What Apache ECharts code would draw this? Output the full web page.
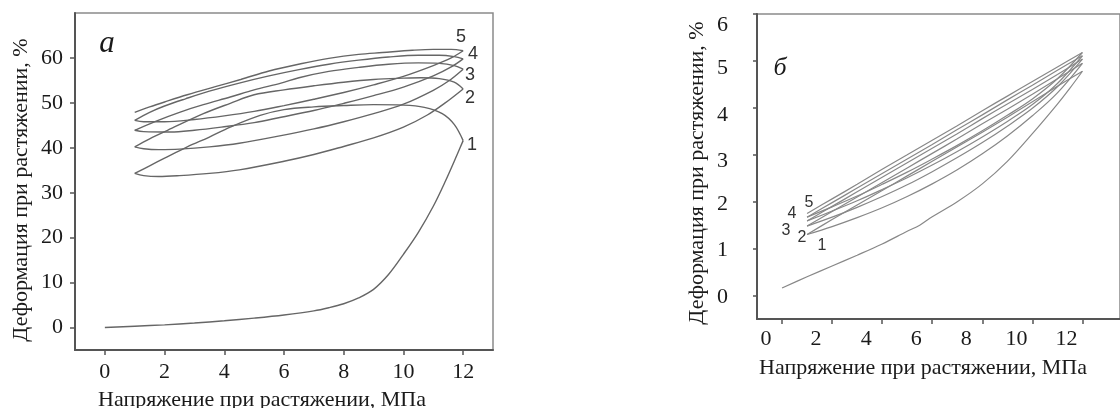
<!DOCTYPE html>
<html><head><meta charset="utf-8">
<script src="https://cdn.jsdelivr.net/npm/echarts@6/dist/echarts.min.js"></script>
<style>html,body{margin:0;padding:0;background:#fff}#c{width:1120px;height:408px}</style>
</head><body><div id="c"></div>
<script>
// ---------- tick labels ----------
const xTicksA = [0, 2, 4, 6, 8, 10, 12];
const yTicksA = [0, 10, 20, 30, 40, 50, 60];
const xTicksB = [0, 2, 4, 6, 8, 10, 12];
const yTicksB = [0, 1, 2, 3, 4, 5, 6];
const cycleNames = ['1', '2', '3', '4', '5'];
const xNameText = 'Напряжение при растяжении, МПа';
const yNameText = 'Деформация при растяжении, %';
const panelNames = ['а', 'б'];

// ---------- panel а: stress (MPa), strain (%) ----------
const loadA1 = [[0,0],[1,0.3],[2,0.6],[3,1.0],[4,1.5],[5,2.1],[6,2.8],[7,3.7],[7.5,4.4],[8,5.3],[8.5,6.6],[9,8.5],[9.5,11.8],[10,16.3],[10.5,21.2],[11,27],[11.4,32.5],[11.8,38.5],[12,41.6]];
const unloadA1 = [[12,41.6],[11.7,45.2],[11.3,47.6],[10.7,49],[10,49.5],[9,49.6],[8,49.4],[7,49.1],[6,48.5],[5.2,47.2],[4.2,44.6],[3.5,42.4],[2.76,40.2],[2,37.7],[1.5,36],[1,34.3]];
const loadA2 = [[1,34.3],[1.3,33.8],[1.8,33.6],[2.5,33.8],[3.5,34.3],[4.5,35.1],[6,37],[7,38.5],[8,40.3],[9,42.2],[10,44.6],[10.8,47.3],[11.4,50],[12,53.1]];
const unloadA2 = [[12,53.1],[11.7,54.6],[11.2,55.4],[10.6,55.6],[10,55.5],[9,55.2],[8,54.6],[7,53.8],[6,52.9],[5,51.8],[4.2,49.9],[3.3,47.6],[2.1,43.9],[1.5,42],[1,40.2]];
const loadA3 = [[1,40.2],[1.3,39.8],[1.8,39.6],[2.5,39.7],[3.5,40.2],[4.5,41],[5.9,42.7],[7,44.2],[8,45.8],[9,47.6],[10,49.7],[11,52.8],[11.5,54.8],[12,57.5]];
const unloadA3 = [[12,57.5],[11.7,58.3],[11.2,58.8],[10.5,58.9],[9.5,58.6],[8.5,57.9],[7.5,57],[6.5,55.6],[5.9,54.4],[5,52.9],[4.2,51.3],[3.3,49.6],[2.5,47.9],[1.7,45.9],[1,43.9]];
const loadA4 = [[1,43.9],[1.3,43.6],[2.2,43.5],[3,43.9],[3.9,44.6],[5,45.6],[5.9,46.8],[7,48.3],[8,49.9],[9,51.6],[10,53.5],[11,56],[11.6,58],[12,59.8]];
const unloadA4 = [[12,59.8],[11.7,60.3],[11.2,60.6],[10.5,60.6],[9.5,60.2],[8.5,59.5],[7.5,58.6],[6.5,57.4],[5.5,56],[4.5,54.4],[3.5,52.6],[2.7,50.9],[2,49.3],[1.5,47.9],[1,46.1]];
const loadA5 = [[1,46.1],[1.3,45.8],[2,45.8],[3,46.3],[4,47.1],[5,48.1],[6,49.4],[7,50.8],[8,52.3],[9,54],[10,55.9],[11,58.3],[11.6,60],[12,61.6]];
const unloadA5 = [[12,61.6],[11.6,61.9],[11,61.9],[10.3,61.7],[9.3,61.2],[8.5,60.8],[7.5,59.9],[6.56,58.7],[5.5,57.1],[4.55,55.2],[3.7,53.6],[2.76,51.8],[2,50.2],[1.5,49.1],[1,47.9]];

// ---------- panel б ----------
const loadB1 = [[0,0.16],[1,0.4],[2,0.63],[3,0.86],[4,1.1],[5,1.37],[5.5,1.5],[6,1.68],[7,2.0],[8,2.38],[9,2.86],[10,3.45],[11,4.08],[11.5,4.42],[12,4.78]];
const unloadB1 = [[12,4.78],[11,4.46],[10,4.13],[9,3.8],[8,3.48],[7,3.17],[6,2.86],[5,2.55],[4,2.24],[3,1.93],[2,1.62],[1,1.30]];
const loadB2 = [[1,1.30],[2,1.47],[3,1.66],[4,1.87],[5,2.11],[6,2.38],[7,2.68],[8,3.02],[9,3.40],[10,3.83],[11,4.32],[12,4.95]];
const unloadB2 = [[12,4.95],[11,4.62],[10,4.29],[9,3.97],[8,3.66],[7,3.34],[6,3.03],[5,2.72],[4,2.41],[3,2.10],[2,1.79],[1,1.48]];
const loadB3 = [[1,1.48],[2,1.67],[3,1.88],[4,2.11],[5,2.36],[6,2.64],[7,2.94],[8,3.26],[9,3.61],[10,3.99],[11,4.45],[12,5.04]];
const unloadB3 = [[12,5.04],[11,4.71],[10,4.39],[9,4.08],[8,3.77],[7,3.45],[6,3.14],[5,2.83],[4,2.52],[3,2.21],[2,1.90],[1,1.59]];
const loadB4 = [[1,1.59],[2,1.80],[3,2.02],[4,2.26],[5,2.51],[6,2.78],[7,3.07],[8,3.38],[9,3.71],[10,4.07],[11,4.52],[12,5.11]];
const unloadB4 = [[12,5.11],[11,4.80],[10,4.48],[9,4.17],[8,3.85],[7,3.54],[6,3.22],[5,2.91],[4,2.60],[3,2.29],[2,1.98],[1,1.67]];
const loadB5 = [[1,1.67],[2,1.89],[3,2.12],[4,2.37],[5,2.63],[6,2.91],[7,3.20],[8,3.51],[9,3.84],[10,4.19],[11,4.62],[12,5.18]];
const unloadB5 = [[12,5.18],[11,4.87],[10,4.56],[9,4.25],[8,3.94],[7,3.62],[6,3.31],[5,3.00],[4,2.69],[3,2.37],[2,2.06],[1,1.75]];

const branchesA = [loadA1, unloadA1, loadA2, unloadA2, loadA3, unloadA3, loadA4, unloadA4, loadA5, unloadA5];
const branchesB = [loadB1, unloadB1, loadB2, unloadB2, loadB3, unloadB3, loadB4, unloadB4, loadB5, unloadB5];

const SERIF = '"Liberation Serif", "Times New Roman", serif';
const SANS = '"Liberation Sans", Arial, sans-serif';
const TXT = '#1a1a1a';
const FS = 22;

function mkSeries(data, idx, color, width) {
  return {
    type: 'line', data: data, xAxisIndex: idx, yAxisIndex: idx,
    showSymbol: false, smooth: 0.35, silent: true, animation: false,
    lineStyle: { color: color, width: width }
  };
}

const series = [];
branchesA.forEach(d => series.push(mkSeries(d, 0, '#666', 1.4)));
branchesB.forEach(d => series.push(mkSeries(d, 1, '#888', 1.2)));

const yOffB = {0: 4, 1: 4, 2: 6, 3: 12, 4: 15, 5: 15, 6: 22};
const richB = {};
yTicksB.forEach(v => { richB['o' + v] = { padding: [yOffB[v], 0, 0, 0], fontFamily: SERIF, fontSize: FS, color: TXT }; });

const axisLineStyle = { color: '#555', width: 2 };

function txt(text, x, y, font, fill, rot) {
  const g = { type: 'text', x: x, y: y, style: { text: text, font: font, fill: fill, align: 'center', verticalAlign: 'middle' } };
  if (rot) g.rotation = rot;
  return g;
}

const option = {
  backgroundColor: '#fff',
  animation: false,
  grid: [
    { left: 75, top: 13, width: 418, height: 337, show: true, borderColor: '#8a8a8a', borderWidth: 1.5, backgroundColor: 'transparent' },
    { left: 757, top: 14, width: 387, height: 305, show: true, borderColor: '#8a8a8a', borderWidth: 1.5, backgroundColor: 'transparent' }
  ],
  xAxis: [
    { type: 'value', gridIndex: 0, min: -1, max: 13, splitLine: { show: false },
      axisLine: { show: true, onZero: false, lineStyle: axisLineStyle },
      axisTick: { show: true, length: 5, customValues: xTicksA, lineStyle: { color: '#555', width: 1.5 } },
      axisLabel: { customValues: xTicksA, margin: 11, fontFamily: SERIF, fontSize: FS, color: TXT } },
    { type: 'value', gridIndex: 1, min: -1, max: 13.5, splitLine: { show: false },
      axisLine: { show: true, onZero: false, lineStyle: axisLineStyle },
      axisTick: { show: true, length: 5, customValues: xTicksB, lineStyle: { color: '#555', width: 1.5 } },
      axisLabel: { customValues: xTicksB, margin: 9, fontFamily: SERIF, fontSize: FS, color: TXT, padding: [0, 32, 0, 0] } }
  ],
  yAxis: [
    { type: 'value', gridIndex: 0, min: -5, max: 70, splitLine: { show: false },
      axisLine: { show: true, onZero: false, lineStyle: axisLineStyle },
      axisTick: { show: true, length: 5, customValues: yTicksA, lineStyle: { color: '#555', width: 1.5 } },
      axisLabel: { customValues: yTicksA, margin: 12, fontFamily: SERIF, fontSize: FS, color: TXT } },
    { type: 'value', gridIndex: 1, min: -0.5, max: 6, splitLine: { show: false },
      axisLine: { show: true, onZero: false, lineStyle: axisLineStyle },
      axisTick: { show: true, length: 4, customValues: yTicksB, lineStyle: { color: '#555', width: 1.5 } },
      axisLabel: { customValues: yTicksB, margin: 29, formatter: v => '{o' + v + '|' + v + '}', rich: richB } }
  ],
  series: series,
  graphic: [
    txt(xNameText, 262, 400, FS + 'px ' + SERIF, TXT),
    txt(yNameText, 21, 190, FS + 'px ' + SERIF, TXT, Math.PI / 2),
    txt(xNameText, 923, 368, FS + 'px ' + SERIF, TXT),
    txt(yNameText, 697, 173, FS + 'px ' + SERIF, TXT, Math.PI / 2),
    txt(panelNames[0], 107, 44, 'italic 31px ' + SERIF, TXT),
    txt(panelNames[1], 780, 68, 'italic 26px ' + SERIF, TXT),
    txt(cycleNames[4], 461, 37, '18px ' + SANS, '#333'),
    txt(cycleNames[3], 473, 54, '18px ' + SANS, '#333'),
    txt(cycleNames[2], 470, 75, '18px ' + SANS, '#333'),
    txt(cycleNames[1], 470, 98, '18px ' + SANS, '#333'),
    txt(cycleNames[0], 472, 145, '18px ' + SANS, '#333'),
    txt(cycleNames[4], 809, 203, '16px ' + SANS, '#333'),
    txt(cycleNames[3], 792, 214, '16px ' + SANS, '#333'),
    txt(cycleNames[2], 786, 231, '16px ' + SANS, '#333'),
    txt(cycleNames[1], 802, 238, '16px ' + SANS, '#333'),
    txt(cycleNames[0], 822, 246, '16px ' + SANS, '#333')
  ]
};

const chart = echarts.init(document.getElementById('c'), null, { renderer: 'canvas' });
chart.setOption(option);
</script>
</body></html>
